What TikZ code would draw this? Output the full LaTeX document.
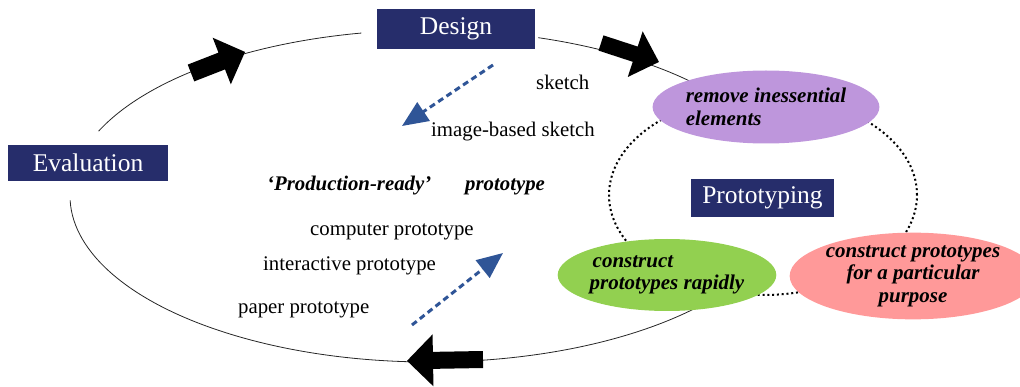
\documentclass[tikz,border=0pt]{standalone}
\usepackage{fontspec}
\setmainfont{Liberation Serif}
\usetikzlibrary{arrows.meta,shapes.geometric}

\definecolor{navy}{RGB}{38,45,107}
\definecolor{lilac}{RGB}{190,150,220}
\definecolor{leaf}{RGB}{146,208,80}
\definecolor{salmon}{RGB}{255,153,153}
\definecolor{flowblue}{RGB}{47,85,151}

\tikzset{
  stage/.style={fill=navy, text=white, inner sep=0pt,
    font=\fontsize{25.5}{28}\selectfont},
  activity/.style={ellipse, inner sep=0pt, align=left,
    font=\fontsize{21}{22.5}\selectfont\bfseries\itshape},
  label/.style={anchor=base west, inner sep=0pt,
    font=\fontsize{20.8}{24}\selectfont},
  cycleline/.style={line width=0.8pt, draw=black!85},
  loopline/.style={line width=2pt, dash pattern=on 2pt off 2.8pt},
  fidelity/.style={draw=flowblue, line width=3pt, dash pattern=on 6pt off 4pt,
    -{Triangle[length=26pt,width=22pt]}},
  bigarrow/.style={fill=black},
}

% block arrow: tail centre, direction, length, head length, head half width, shaft half width
\newcommand{\cyclearrow}[7]{%
  \fill[bigarrow, shift={(#1,#2)}, rotate=#3]
    (0,-#7) -- (#4-#5,-#7) -- (#4-#5,-#6) -- (#4,0) -- (#4-#5,#6)
    -- (#4-#5,#7) -- (0,#7) -- cycle;}

\begin{document}
\begin{tikzpicture}[x=1pt,y=-1pt]
\useasboundingbox (0,0) rectangle (1020,387);

% centres of the design cycle and the inner prototyping loop
\coordinate (cyc) at (430,196);
\coordinate (loop) at (763,195);

% inner dotted prototyping loop
\draw[loopline] (loop) ellipse[x radius=154pt, y radius=100pt];

% outer design cycle
\draw[cycleline] (cyc) ++(157:360pt and 166pt)
  arc[start angle=157, end angle=101, x radius=360pt, y radius=166pt];
\draw[cycleline] (cyc) ++(72.5:360pt and 166pt)
  arc[start angle=72.5, end angle=40, x radius=360pt, y radius=166pt];
\draw[cycleline] (cyc) ++(-35:360pt and 166pt)
  arc[start angle=-35, end angle=-178.5, x radius=360pt, y radius=166pt];

% prototyping activities
\node[activity, fill=lilac, minimum width=209pt, minimum height=73pt]
  (remove) at (766,107) {remove inessential\\elements};
\node[activity, fill=leaf, minimum width=208pt, minimum height=72pt]
  (rapid) at (667,275) {\hspace*{3pt}construct\\prototypes rapidly};
\node[activity, fill=salmon, minimum width=214pt, minimum height=83pt, align=center]
  (purpose) at (913,276) {construct prototypes\\for a particular\\purpose};

% stages
\node[stage, minimum width=158pt, minimum height=40pt] (design) at (456,29) {Design};
\node[stage, minimum width=160pt, minimum height=36pt] (evaluation) at (88,163) {Evaluation};
\node[stage, minimum width=143pt, minimum height=38pt] (prototyping) at (762.5,198) {Prototyping};

% direction of the cycle
\cyclearrow{191}{73}{21.3}{58}{25}{25}{9}
\cyclearrow{601}{43}{-18.1}{61}{25}{24}{8}
\cyclearrow{483}{359.5}{181}{76}{26}{26}{8.5}

% fidelity labels
\node[label] (sketch) at (536,90) {sketch};
\node[label] (imgsketch) at (431,137) {image-based sketch};
\node[label, font=\fontsize{20.8}{24}\selectfont\bfseries\itshape]
  (production) at (267,191) {‘Production-ready’};
\node[label, font=\fontsize{20.8}{24}\selectfont\bfseries\itshape]
  (prodproto) at (465,191) {prototype};
\node[label] (computer) at (310,236) {computer prototype};
\node[label] (interactive) at (263,271) {interactive prototype};
\node[label] (paper) at (238,314) {paper prototype};

% fidelity direction arrows
\coordinate (lowA) at (493,65);
\coordinate (lowB) at (402,126);
\coordinate (highA) at (412,325);
\coordinate (highB) at (503,253);
\draw[fidelity] (lowA) -- (lowB);
\draw[fidelity] (highA) -- (highB);
\end{tikzpicture}
\end{document}
